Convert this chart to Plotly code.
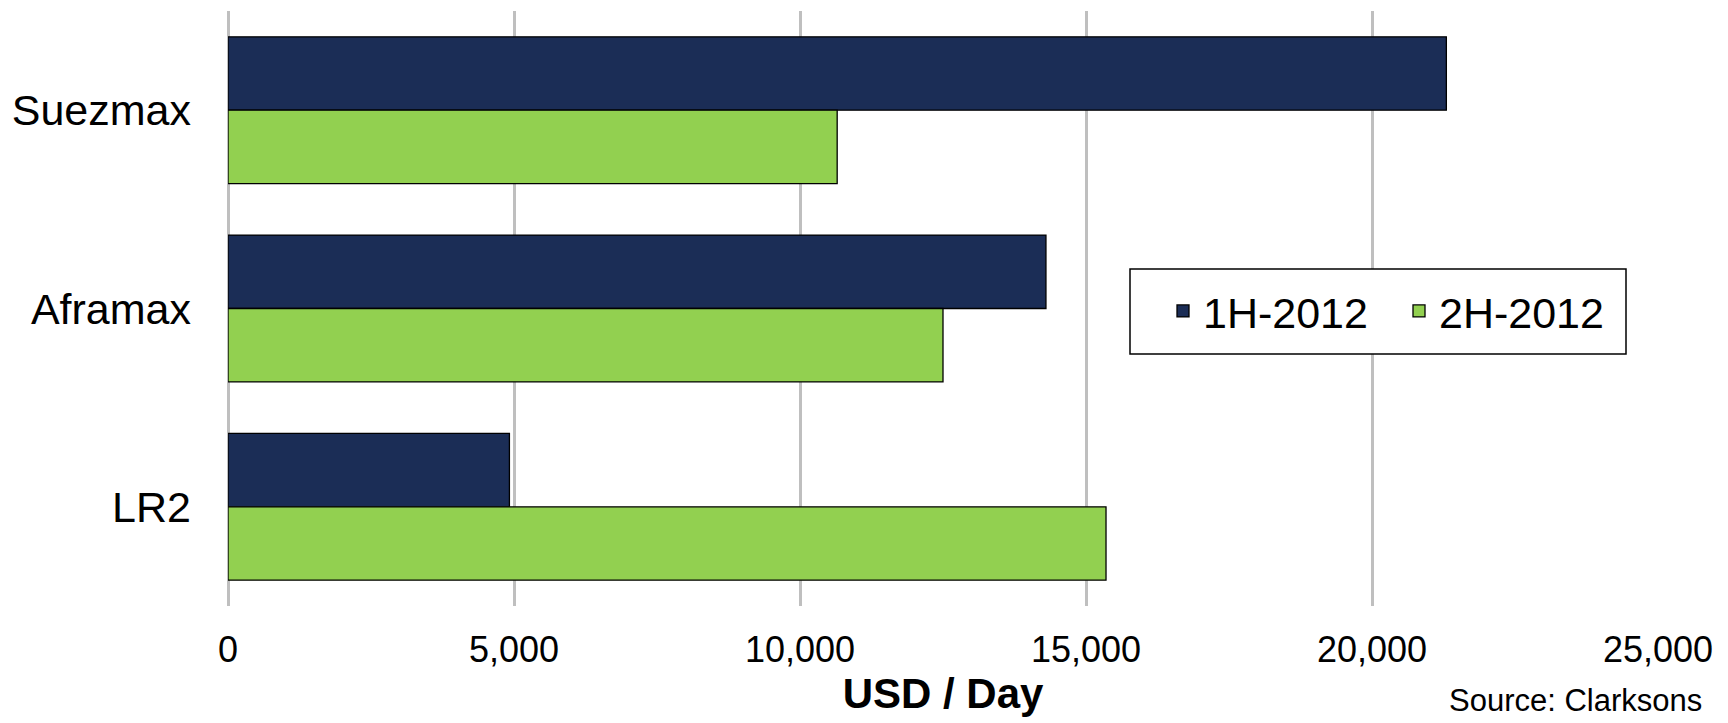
import plotly.graph_objects as go

categories = ["Suezmax", "Aframax", "LR2"]
h1_2012 = [21300, 14300, 4920]
h2_2012 = [10650, 12500, 15350]
series_names = ["1H-2012", "2H-2012"]
x_ticks = [0, 5000, 10000, 15000, 20000, 25000]
x_tick_labels = ["0", "5,000", "10,000", "15,000", "20,000", "25,000"]

FONT = "Arial, Liberation Sans, sans-serif"
NAVY = "#1B2D56"
GREEN = "#92D050"

# plot area in pixels
L, R, T, B = 228, 1658, 11, 606
W, H = R - L, B - T


def px_x(px):
    return (px - L) / W


def px_y(py):
    return (B - py) / H


fig = go.Figure()
fig.add_trace(go.Bar(
    y=categories, x=h1_2012, name=series_names[0], orientation="h",
    marker=dict(color=NAVY, line=dict(color="black", width=1.3)),
))
fig.add_trace(go.Bar(
    y=categories, x=h2_2012, name=series_names[1], orientation="h",
    marker=dict(color=GREEN, line=dict(color="black", width=1.3)),
))

fig.update_layout(
    width=1728, height=723,
    margin=dict(l=L, r=1728 - R, t=T, b=723 - B),
    paper_bgcolor="white", plot_bgcolor="white",
    barmode="group", bargap=0.26, bargroupgap=0,
    font=dict(family=FONT, color="black"),
    showlegend=True,
    legend=dict(
        orientation="h",
        x=px_x(1163), y=px_y(311), xanchor="left", yanchor="middle",
        borderwidth=0, bgcolor="rgba(0,0,0,0)",
        font=dict(size=43, family=FONT, color="black"),
        traceorder="normal",
        entrywidth=191, entrywidthmode="pixels",
    ),
    shapes=[dict(
        type="rect", xref="paper", yref="paper",
        x0=px_x(1130), x1=px_x(1626), y0=px_y(354), y1=px_y(269),
        line=dict(color="black", width=1.5), fillcolor="white", layer="above",
    )],
    xaxis=dict(
        range=[0, 25000], tickvals=x_ticks, ticktext=x_tick_labels,
        showgrid=True, gridcolor="#BFBFBF", gridwidth=2.5,
        zeroline=True, zerolinecolor="#BFBFBF", zerolinewidth=2.5,
        showline=False, ticks="",
        tickfont=dict(size=36, family=FONT, color="black"),
        ticklabelstandoff=19,
        title=dict(text="<b>USD / Day</b>", font=dict(size=42, family=FONT, color="black"), standoff=9),
    ),
    yaxis=dict(
        autorange="reversed", showgrid=False, zeroline=False, showline=False,
        ticks="", tickfont=dict(size=43, family=FONT, color="black"),
        ticklabelstandoff=36,
    ),
    annotations=[dict(
        text="Source: Clarksons", xref="paper", yref="paper",
        x=px_x(1704), y=px_y(701), xanchor="right", yanchor="middle",
        showarrow=False, font=dict(size=31, family=FONT, color="black"),
    )],
)

fig.write_html("out.html")
